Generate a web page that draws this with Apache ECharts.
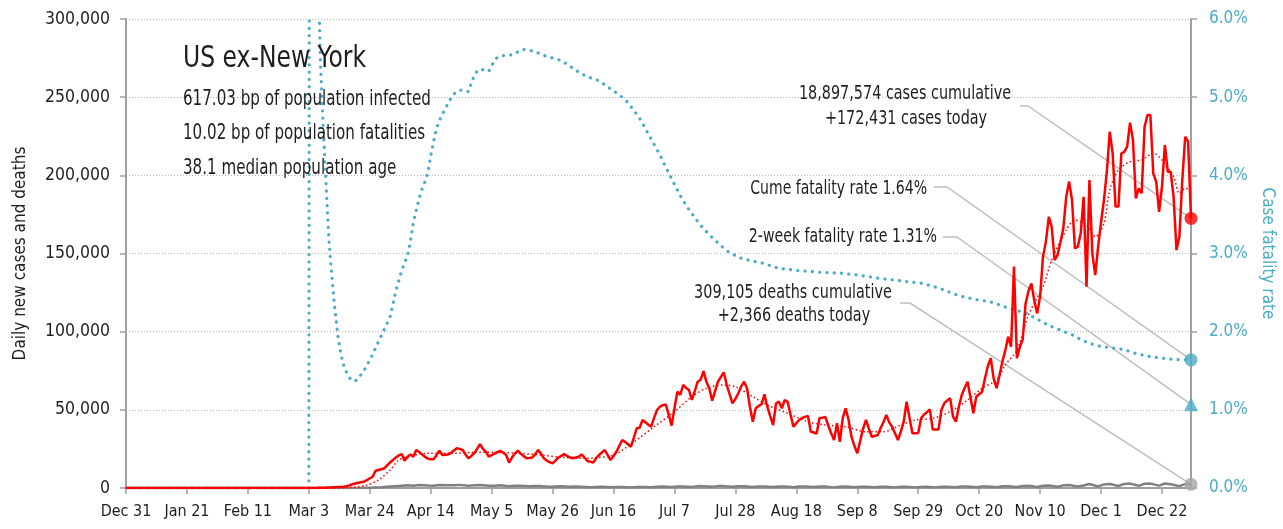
<!DOCTYPE html>
<html>
<head>
<meta charset="utf-8">
<title>US ex-New York</title>
<script src="https://cdn.jsdelivr.net/npm/echarts@6/dist/echarts.min.js"></script>
<style>
  html, body { margin: 0; padding: 0; background: #fff; }
  #chart { width: 1283px; height: 529px; }
</style>
</head>
<body>
<div id="chart"></div>
<script>
// daily new cases, one value per day starting Dec 31 2019
const casesDaily = [
  0, 0, 0, 0, 0, 0, 0, 0, 0, 0,
  0, 0, 0, 0, 0, 0, 0, 0, 0, 0,
  0, 0, 0, 0, 0, 0, 0, 0, 0, 0,
  0, 0, 0, 0, 0, 0, 0, 0, 0, 0,
  0, 0, 0, 0, 0, 0, 0, 0, 0, 0,
  0, 0, 0, 0, 0, 0, 2, 3, 5, 8,
  12, 18, 25, 35, 50, 70, 100, 140, 190, 260,
  340, 430, 530, 640, 720, 800, 1200, 1700, 2400, 2900,
  3300, 3700, 4000, 5000, 6200, 7200, 11000, 11500, 12000, 12600,
  14500, 16300, 17900, 19500, 20800, 21700, 17500, 19800, 21500, 20000,
  24300, 23000, 21500, 20000, 18800, 18400, 18400, 21000, 23900, 21100,
  21300, 21500, 22500, 24000, 25400, 25000, 24300, 21500, 19000, 20500,
  22200, 25000, 28100, 25000, 23200, 20000, 21000, 22000, 23000, 23700,
  22500, 21100, 16200, 19500, 22000, 23900, 22000, 20500, 19000, 19200,
  19500, 21500, 24300, 22000, 19000, 17500, 16500, 15800, 17500, 19500,
  20500, 21700, 20500, 19500, 19000, 19500, 20000, 21500, 19500, 17300,
  16800, 16200, 19000, 21100, 22700, 24300, 21000, 17900, 20500, 23200,
  27000, 30700, 29500, 28000, 26400, 32000, 38200, 38600, 43500, 42000,
  40500, 39200, 45000, 49900, 52000, 53000, 53500, 47000, 39900, 51000,
  61600, 59500, 65900, 64000, 62700, 56300, 62000, 68000, 69200, 74800,
  68000, 63800, 55900, 62000, 68000, 71000, 74000, 66000, 60000, 54200,
  57000, 60600, 65000, 68000, 63800, 52000, 42400, 51000, 52500, 53500,
  59900, 52000, 46000, 40300, 54200, 55200, 51000, 56300, 55200, 47000,
  39200, 41500, 43500, 44800, 45500, 46100, 36000, 35500, 34900, 44800,
  45000, 45400, 40000, 35000, 30700, 41400, 29600, 44800, 51000, 43500,
  32800, 27000, 22200, 30000, 38000, 43500, 38000, 32800, 33300, 33800,
  38000, 42000, 46700, 42000, 39200, 35000, 30700, 36000, 42400, 55200,
  45000, 35000, 35100, 35200, 44600, 47000, 48500, 50300, 37500, 37500,
  37500, 50000, 54200, 56000, 57400, 45600, 42400, 52000, 59500, 64000,
  68000, 58000, 47800, 58400, 60000, 61600, 70000, 78000, 83000, 70000,
  63800, 72000, 80800, 88000, 96800, 90400, 141600, 83000, 90000, 95000,
  118000, 126000, 130900, 120000, 111700, 122400, 148000, 157600, 173500, 167100,
  145800, 149000, 157000, 166100, 186300, 196000, 184200, 153300, 154400, 162900,
  186300, 128800, 197000, 150100, 136200, 154400, 170000, 184200, 202300, 227900,
  214100, 180000, 180000, 214100, 215000, 218300, 233700, 222600, 185300, 191700,
  188500, 231100, 238600, 238600, 201300, 196000, 176700, 192700, 219400, 202300,
  202300, 186300, 152200, 160800, 197000, 224700, 221500, 172431
]

// dotted trend of cases, [day, value]
const casesTrend = [
  [0, 0], [70, 0], [77, 300], [83, 1900], [87, 5100], [91, 11500], [94, 17900],
  [98, 20500], [104, 22200], [112, 22200], [120, 22800], [127, 22800], [135, 22200],
  [143, 21100], [150, 19600], [158, 19000], [161, 19200], [168, 21100], [175, 29400],
  [182, 39200], [189, 48800], [195, 58400], [200, 63800], [206, 65900], [210, 64800],
  [216, 58400], [221, 53100], [228, 47800], [235, 42400], [241, 40300], [248, 39200],
  [255, 36000], [261, 36000], [267, 40300], [272, 43500], [278, 44600], [284, 48800],
  [290, 56300], [295, 63800], [300, 69100], [303, 78700], [307, 88300], [311, 110700],
  [316, 128800], [319, 145800], [324, 165000], [327, 171400], [331, 168200],
  [334, 160800], [337, 169300], [339, 190600], [342, 203400], [346, 208700],
  [350, 209800], [354, 214100], [357, 209800], [361, 199100], [363, 188500],
  [365, 191700], [367, 191000]
]

// daily deaths, [day, value]
const deathsDaily = [
  [0, 0], [75, 0], [80, 60], [85, 250], [88, 500], [91, 900], [94, 1300], [97, 1700],
  [99, 1400], [101, 1900], [104, 1600], [106, 1500], [108, 1900], [111, 1700],
  [113, 1800], [115, 2000], [118, 1500], [120, 1700], [122, 1900], [125, 1500],
  [127, 1400], [129, 1700], [132, 1100], [134, 1500], [136, 1400], [139, 1100],
  [141, 1300], [143, 1200], [146, 800], [148, 1000], [150, 1100], [153, 800],
  [155, 900], [157, 800], [160, 500], [162, 700], [164, 800], [167, 500], [169, 700],
  [171, 600], [174, 400], [176, 700], [178, 700], [181, 500], [183, 800], [185, 900],
  [188, 600], [190, 900], [192, 1000], [195, 700], [197, 1200], [199, 1100],
  [202, 800], [204, 1200], [206, 1200], [209, 800], [211, 1100], [213, 1100],
  [216, 700], [218, 1000], [220, 1000], [223, 700], [225, 1000], [227, 950],
  [230, 500], [232, 900], [234, 900], [237, 600], [239, 900], [241, 900], [244, 400],
  [246, 800], [248, 900], [251, 500], [253, 800], [255, 800], [258, 450], [260, 800],
  [262, 750], [265, 400], [267, 750], [269, 800], [272, 400], [274, 700], [276, 750],
  [279, 400], [281, 800], [283, 800], [286, 450], [288, 900], [290, 900], [293, 500],
  [295, 1000], [297, 1000], [300, 500], [302, 1100], [304, 1100], [307, 600],
  [309, 1300], [311, 1400], [314, 700], [316, 1500], [318, 1600], [321, 800],
  [323, 1700], [325, 1900], [328, 900], [330, 1600], [332, 2600], [335, 1000],
  [337, 2300], [339, 2600], [342, 1300], [344, 2600], [346, 2800], [349, 1400],
  [351, 2700], [353, 2800], [356, 1500], [358, 2900], [360, 2400], [363, 1200],
  [365, 2500], [367, 2366]
]

// cumulative case fatality rate (%), [day, value]
const fatalityRate = [
  [0, 0], [63, 0], [64, 40], [65, 12], [66, 7], [67, 5.45], [68, 4.6], [69, 3.85],
  [70, 3.13], [71, 2.68], [72, 2.28], [73, 1.95], [74, 1.72], [75, 1.57], [76, 1.48],
  [77, 1.41], [78, 1.37], [79, 1.37], [80, 1.4], [81, 1.45], [82, 1.5], [83, 1.57],
  [84, 1.64], [85, 1.71], [86, 1.79], [87, 1.87], [88, 1.95], [89, 2.03], [90, 2.11],
  [91, 2.19], [92, 2.35], [93, 2.52], [94, 2.65], [95, 2.78], [96, 2.88], [97, 2.97],
  [98, 3.15], [99, 3.39], [100, 3.55], [101, 3.7], [102, 3.82], [103, 3.92],
  [104, 4.03], [105, 4.25], [106, 4.43], [107, 4.6], [108, 4.7], [109, 4.78],
  [110, 4.85], [111, 4.92], [112, 4.99], [113, 5.04], [114, 5.07], [115, 5.09],
  [116, 5.09], [117, 5.08], [118, 5.07], [119, 5.18], [120, 5.28], [121, 5.33],
  [122, 5.36], [123, 5.35], [124, 5.34], [125, 5.33], [126, 5.4], [127, 5.47],
  [128, 5.51], [129, 5.52], [131, 5.54], [133, 5.54], [135, 5.58], [137, 5.61],
  [139, 5.6], [141, 5.58], [143, 5.55], [145, 5.52], [147, 5.5], [150, 5.47],
  [152, 5.42], [154, 5.37], [156, 5.32], [159, 5.26], [163, 5.21], [166, 5.13],
  [170, 5.03], [173, 4.93], [177, 4.73], [180, 4.53], [184, 4.26], [187, 4.03],
  [191, 3.74], [194, 3.56], [198, 3.36], [201, 3.24], [205, 3.1], [208, 3.01],
  [212, 2.94], [215, 2.91], [219, 2.88], [225, 2.81], [232, 2.78], [239, 2.76],
  [246, 2.75], [253, 2.72], [260, 2.68], [267, 2.65], [274, 2.62], [280, 2.56],
  [287, 2.46], [293, 2.41], [298, 2.38], [305, 2.29], [310, 2.24], [314, 2.16],
  [318, 2.08], [322, 2.02], [326, 1.96], [329, 1.9], [332, 1.85], [336, 1.81],
  [340, 1.79], [344, 1.77], [348, 1.72], [353, 1.68], [357, 1.66], [360, 1.65],
  [363, 1.64], [367, 1.64]
]

// latest figures
const casesCumulative = 18897574
const casesToday = 172431
const deathsCumulative = 309105
const deathsToday = 2366
const cumeFatality = 1.64
const twoWeekFatality = 1.31
const twoWeekMarker = 1.07 // where the triangle sits on the right axis

const statLines = [
  '617.03 bp of population infected',
  '10.02 bp of population fatalities',
  '38.1 median population age'
]

const monthNames = ['Jan', 'Feb', 'Mar', 'Apr', 'May', 'Jun', 'Jul', 'Aug', 'Sep', 'Oct', 'Nov', 'Dec']
const startDate = Date.UTC(2019, 11, 31)
const dayLabels = casesDaily.map(function (_, i) {
  const d = new Date(startDate + i * 86400000)
  return monthNames[d.getUTCMonth()] + ' ' + d.getUTCDate()
})
const lastDay = casesDaily.length - 1

// no narrow font installed: condensed DejaVu, squeezed further for the free text
const FONT = "'DejaVu Sans Condensed', 'DejaVu Sans', sans-serif"
const RED = '#ff0000'
const TEAL = '#4bacc6'
const AXIS_GRAY = '#a0a0a0'
const TEXT = '#1e1e1e'

function fmt(n) {
  return n.toString().replace(/\B(?=(\d{3})+(?!\d))/g, ',')
}

const chart = echarts.init(document.getElementById('chart'))

const option = {
  animation: false,
  backgroundColor: '#fff',
  grid: { left: 126, right: 92, top: 19, bottom: 41, outerBoundsMode: 'none' },
  xAxis: {
    type: 'category',
    data: dayLabels,
    boundaryGap: false,
    axisLine: { lineStyle: { color: AXIS_GRAY, width: 2 } },
    axisTick: { interval: 20, length: 6, lineStyle: { color: AXIS_GRAY, width: 1.5 } },
    axisLabel: {
      interval: 20,
      hideOverlap: false,
      margin: 16,
      fontSize: 16,
      fontFamily: FONT,
      color: TEXT,
    },
    splitLine: { show: false },
  },
  yAxis: [
    {
      type: 'value',
      position: 'left',
      min: 0,
      max: 300000,
      interval: 50000,
      name: 'Daily new cases and deaths',
      nameLocation: 'middle',
      nameGap: 97,
      nameTextStyle: { fontSize: 17, fontFamily: FONT, color: TEXT },
      axisLine: { show: true, lineStyle: { color: AXIS_GRAY, width: 2 } },
      axisTick: { show: true, length: 6, lineStyle: { color: AXIS_GRAY, width: 1.5 } },
      axisLabel: {
        margin: 16,
        fontSize: 17.5,
        fontFamily: FONT,
        color: TEXT,
        formatter: function (v) { return fmt(v) },
      },
      splitLine: { show: true, lineStyle: { color: '#b4b4b4', width: 1, type: [1, 2] } },
    },
    {
      type: 'value',
      position: 'right',
      min: 0,
      max: 6,
      interval: 1,
      name: 'Case fatality rate',
      nameLocation: 'middle',
      nameRotate: -90,
      nameGap: 56,
      nameTextStyle: { fontSize: 17, fontFamily: FONT, color: TEAL },
      axisLine: { show: true, lineStyle: { color: AXIS_GRAY, width: 2 } },
      axisTick: { show: true, length: 6, lineStyle: { color: AXIS_GRAY, width: 1.5 } },
      axisLabel: {
        margin: 18,
        fontSize: 17,
        fontFamily: FONT,
        color: TEAL,
        formatter: function (v) { return v.toFixed(1) + '%' },
      },
      splitLine: { show: false },
    },
  ],
  series: [
    {
      name: 'Case fatality rate',
      type: 'line',
      yAxisIndex: 1,
      data: fatalityRate,
      symbol: 'none',
      clip: true,
      z: 2,
      lineStyle: { color: TEAL, width: 3.2, type: [0.1, 7.2], cap: 'round' },
    },
    {
      name: 'Daily deaths',
      type: 'line',
      data: deathsDaily,
      symbol: 'none',
      z: 3,
      lineStyle: { color: '#808080', width: 2.5 },
    },
    {
      name: 'Daily cases',
      type: 'line',
      data: casesDaily,
      symbol: 'none',
      z: 4,
      lineStyle: { color: RED, width: 2.5 },
    },
    {
      name: 'Cases trend',
      type: 'line',
      data: casesTrend,
      symbol: 'none',
      smooth: 0.3,
      z: 5,
      lineStyle: { color: RED, width: 1.5, type: [1.5, 2.5] },
    },
    {
      type: 'scatter',
      data: [[lastDay, casesToday]],
      symbol: 'circle',
      symbolSize: 13,
      z: 6,
      itemStyle: { color: RED },
    },
    {
      type: 'scatter',
      yAxisIndex: 1,
      data: [[lastDay, cumeFatality]],
      symbol: 'circle',
      symbolSize: 13,
      z: 6,
      itemStyle: { color: TEAL },
    },
    {
      type: 'scatter',
      yAxisIndex: 1,
      data: [[lastDay, twoWeekMarker]],
      symbol: 'triangle',
      symbolSize: 14,
      z: 6,
      itemStyle: { color: TEAL },
    },
    {
      type: 'scatter',
      data: [[lastDay, deathsToday]],
      symbol: 'circle',
      symbolSize: 13,
      z: 6,
      itemStyle: { color: '#a6a6a6' },
    },
  ],
}

chart.setOption(option)

// annotations: text blocks and leader lines to the end markers
function label(text, x, y, size, squeeze, align) {
  return {
    type: 'text',
    x: x,
    y: y,
    scaleX: squeeze,
    z: 10,
    style: {
      text: text,
      fontSize: size,
      fontFamily: FONT,
      fill: TEXT,
      align: align || 'left',
      verticalAlign: 'middle',
    },
  }
}

function leader(x0, y0, x1, seriesIndex, value) {
  const end = chart.convertToPixel({ seriesIndex: seriesIndex }, [lastDay, value])
  return {
    type: 'polyline',
    z: 1,
    shape: { points: [[x0, y0], [x1, y0], end] },
    style: { stroke: '#bfbfbf', lineWidth: 1.5, fill: null },
  }
}

const graphics = [
  label('US ex-New York', 183, 59, 30, 0.87),
  label(statLines[0], 183, 99.5, 21, 0.8),
  label(statLines[1], 183, 134, 21, 0.8),
  label(statLines[2], 183, 169, 21, 0.8),
  label(fmt(casesCumulative) + ' cases cumulative', 905, 94, 20, 0.8, 'center'),
  label('+' + fmt(casesToday) + ' cases today', 906, 119, 20, 0.8, 'center'),
  label('Cume fatality rate ' + cumeFatality.toFixed(2) + '%', 927, 188.5, 20, 0.78, 'right'),
  label('2-week fatality rate ' + twoWeekFatality.toFixed(2) + '%', 937, 236.5, 20, 0.787, 'right'),
  label(fmt(deathsCumulative) + ' deaths cumulative', 793, 292.5, 20, 0.8, 'center'),
  label('+' + fmt(deathsToday) + ' deaths today', 794, 316, 20, 0.8, 'center'),
  leader(1020, 106, 1028, 4, casesToday),
  leader(934, 187, 947, 5, cumeFatality),
  leader(943, 237, 957, 6, twoWeekMarker),
  leader(900, 303, 910, 7, deathsToday),
]

chart.setOption({ graphic: graphics })
</script>
</body>
</html>
